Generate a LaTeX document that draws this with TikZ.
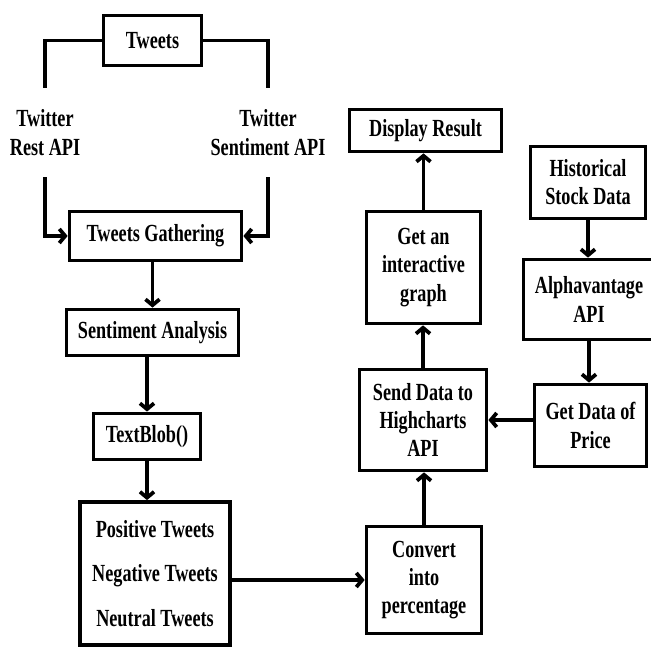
\documentclass[tikz,border=0pt]{standalone}
\usepackage{fontspec}
\setmainfont{Liberation Serif}[FakeStretch=0.74]
\usetikzlibrary{arrows.meta}

\begin{document}
\begin{tikzpicture}[x=0.03cm, y=0.03cm,
    box/.style={draw, line width=3.2pt, align=center, inner sep=0pt,
      font=\fontsize{21}{24}\selectfont\bfseries},
    lbl/.style={align=center, minimum height=2.67cm,
      font=\fontsize{21}{25}\selectfont\bfseries},
    line/.style={line width=3.2pt},
    arr/.style={line width=3.2pt, -{Straight Barb[length=5pt,width=12pt]}}]
  \useasboundingbox (0,0) rectangle (651,648);
  %
  \node[box, minimum width=2.94cm, minimum height=1.5cm] (tweets) at (152.5,607.5) {Tweets}; % sources
  \node[lbl] (restapi) at (45,515.5) {Twitter\\Rest API};
  \node[lbl] (sentapi) at (268,515.5) {Twitter\\Sentiment API};
  %
  \node[box, minimum width=5.16cm, minimum height=1.47cm] (gather) at (155.5,412) {Tweets Gathering}; % left column
  \node[box, minimum width=5.16cm, minimum height=1.38cm] (senti) at (152.5,315.5) {Sentiment Analysis};
  \node[box, minimum width=3.21cm, minimum height=1.38cm] (textblob) at (147,211.5) {TextBlob()};
  \node[box, minimum width=4.5cm, minimum height=4.29cm,
    font=\fontsize{21}{38}\selectfont\bfseries] (tweetcls) at (155,74.5)
    {Positive Tweets\\Negative Tweets\\Neutral Tweets};
  %
  \node[box, minimum width=3.45cm, minimum height=3.21cm] (convert) at (424,68) {Convert\\into\\percentage}; % middle column
  \node[box, minimum width=3.81cm, minimum height=3.03cm] (senddata) at (423,228) {Send Data to\\Highcharts\\API};
  \node[box, minimum width=3.42cm, minimum height=3.36cm] (graph) at (423.5,380.5) {Get an\\interactive\\graph};
  \node[box, minimum width=4.56cm, minimum height=1.26cm] (display) at (425.5,517.5) {Display Result};
  %
  \node[box, minimum width=3.45cm, minimum height=2.16cm] (hist) at (588,465.5) {Historical\\Stock Data}; % right column
  \node[box, minimum width=3.93cm, minimum height=2.4cm] (alpha) at (589,348.5) {Alphavantage\\API};
  \node[box, minimum width=3.36cm, minimum height=2.46cm] (price) at (590.5,222.5) {Get Data of\\Price};
  %
  \draw[line] (tweets.west) -| (restapi.north);  % gathering
  \draw[line] (tweets.east) -| (sentapi.north);
  \draw[arr] (restapi.south) |- (gather.west);
  \draw[arr] (sentapi.south) |- (gather.east);
  %
  \draw[arr] (gather.south -| senti) -- (senti.north);          % analysis
  \draw[arr] (senti.south -| textblob) -- (textblob.north);
  \draw[arr] (textblob.south) -- (textblob.south |- tweetcls.north);
  \draw[arr] (tweetcls.east |- convert.west) -- (convert.west);
  %
  \draw[arr] (convert.north) -- (convert.north |- senddata.south); % result
  \draw[arr] (senddata.north) -- (senddata.north |- graph.south);
  \draw[arr] (graph.north) -- (graph.north |- display.south);
  %
  \draw[arr] (hist.south) -- (hist.south |- alpha.north);      % stock data
  \draw[arr] (alpha.south) -- (alpha.south |- price.north);
  \draw[arr] (price.west |- senddata) -- (senddata.east);
\end{tikzpicture}
\end{document}
